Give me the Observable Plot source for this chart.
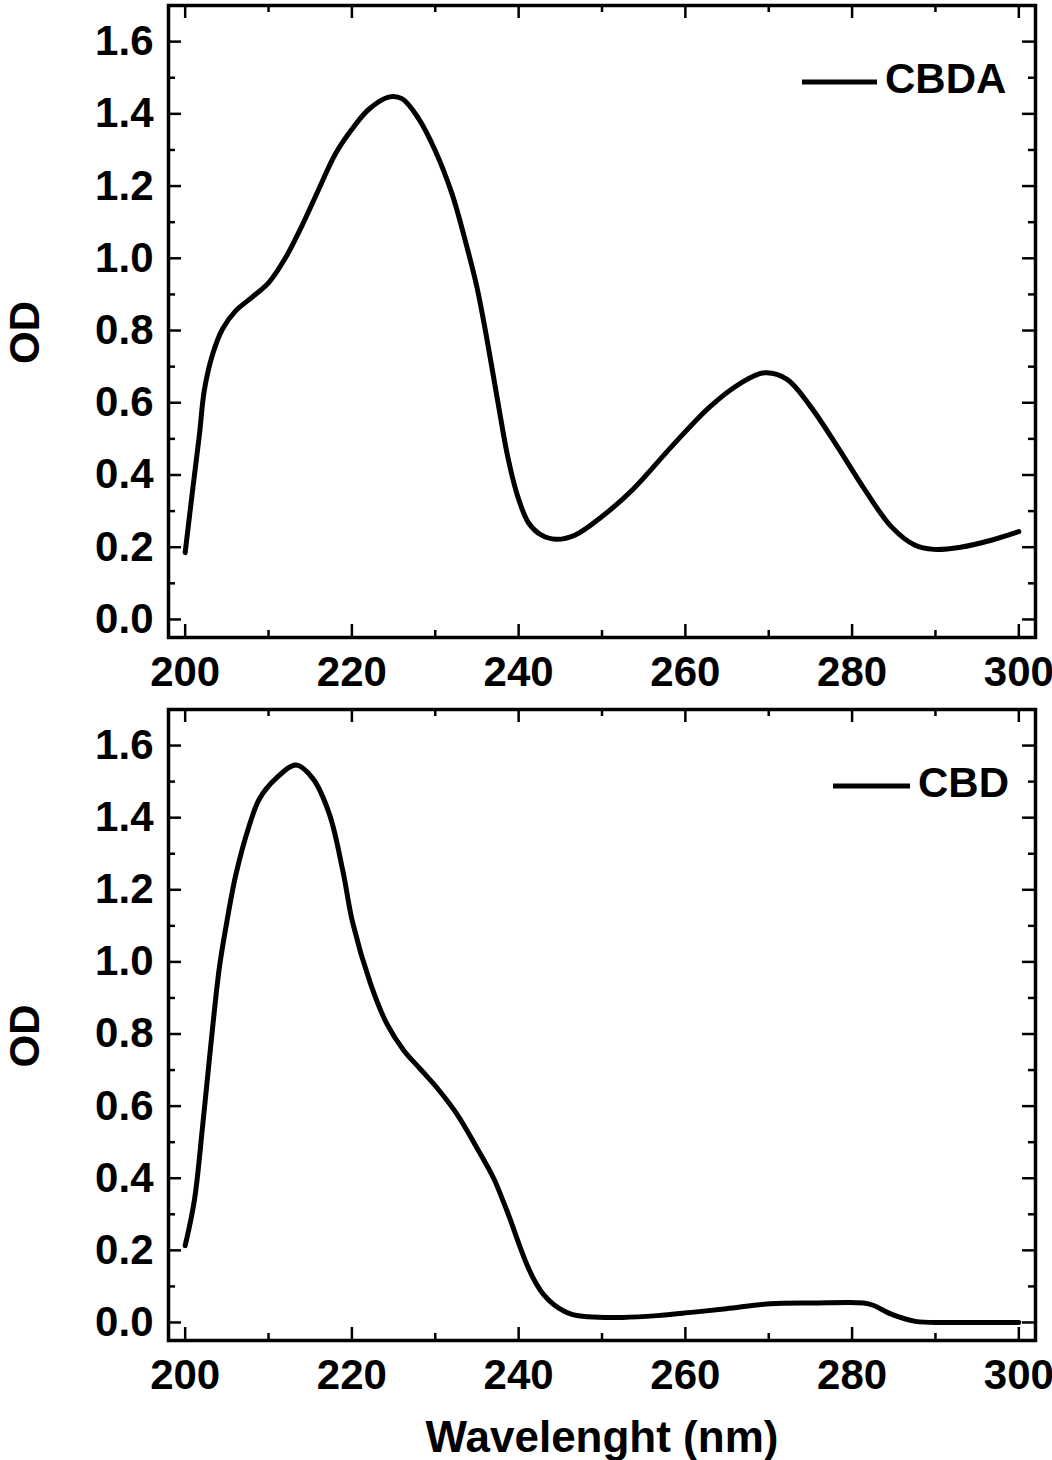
<!DOCTYPE html>
<html><head><meta charset="utf-8">
<script src="https://cdn.jsdelivr.net/npm/d3@7"></script>
<script src="https://cdn.jsdelivr.net/npm/@observablehq/plot@0.6"></script>
<style>
body{margin:0;background:#fff;}
#chart{width:1052px;}
#chart svg{display:block;}
</style>
</head><body><div id="chart"></div>
<script>
// ---- Data ----
const wavelengthCBDA = [200, 200.9, 201.7, 202.3, 203.3, 204.5, 206, 208, 210, 212, 214, 216, 218, 220, 222, 224.5, 226, 228, 230, 232, 233.7, 235, 236.2, 237.6, 238.7, 239.9, 241.2, 242.7, 244.5, 246.8, 250, 253.7, 258.4, 263, 266.7, 269.5, 272.2, 275, 278.2, 281.5, 284.7, 287.5, 289.8, 293, 296.8, 300];
const odCBDA = [0.185, 0.36, 0.51, 0.635, 0.735, 0.805, 0.853, 0.892, 0.932, 1.0, 1.09, 1.19, 1.288, 1.357, 1.412, 1.447, 1.442, 1.387, 1.298, 1.179, 1.04, 0.92, 0.776, 0.59, 0.45, 0.34, 0.267, 0.234, 0.222, 0.234, 0.285, 0.36, 0.48, 0.59, 0.655, 0.683, 0.665, 0.59, 0.48, 0.36, 0.257, 0.206, 0.194, 0.2, 0.22, 0.243];

const wavelengthCBD = [200, 201.1, 202.1, 203.1, 204.1, 204.9, 206.1, 207.7, 208.9, 210.9, 213.3, 215.3, 217.3, 218.9, 220.1, 222.2, 224.2, 226.2, 228.2, 230.2, 232.6, 235, 237, 238, 239, 240, 241, 242, 243, 244.2, 246.3, 248.3, 252.5, 256.6, 260.7, 264.9, 270.2, 275.2, 281.4, 282.6, 284.7, 287.6, 291.7, 300];
const odCBD = [0.213, 0.338, 0.546, 0.775, 0.984, 1.098, 1.244, 1.379, 1.452, 1.509, 1.546, 1.509, 1.41, 1.254, 1.108, 0.942, 0.828, 0.755, 0.703, 0.651, 0.578, 0.484, 0.40, 0.345, 0.285, 0.22, 0.16, 0.112, 0.077, 0.05, 0.023, 0.016, 0.014, 0.019, 0.028, 0.038, 0.052, 0.054, 0.054, 0.047, 0.023, 0.003, 0.0, 0.0];

const xMajorTicks = [200, 220, 240, 260, 280, 300];
const xMinorTicks = [210, 230, 250, 270, 290];
const yMajorTicks = [0, 0.2, 0.4, 0.6, 0.8, 1.0, 1.2, 1.4, 1.6];
const yMinorTicks = [0.1, 0.3, 0.5, 0.7, 0.9, 1.1, 1.3, 1.5];
const xDomain = [198, 302];
const yDomain = [-0.05, 1.7];
const yLabel = "OD";
const xLabel = "Wavelenght (nm)";

const FONT = "'Liberation Sans', Arial, Helvetica, sans-serif";

function legendMark(name, lineFrom, lineTo, textAt) {
  return (index, scales, values, dims) => {
    const g = d3.create("svg:g");
    const right = dims.width - dims.marginRight;
    const top = dims.marginTop;
    g.append("line")
      .attr("x1", right + lineFrom).attr("x2", right + lineTo)
      .attr("y1", top + 77).attr("y2", top + 77)
      .attr("stroke", "#000").attr("stroke-width", 5);
    g.append("text")
      .attr("x", right + textAt).attr("y", top + 88)
      .attr("text-anchor", "start")
      .attr("font-size", 42).attr("font-weight", "bold")
      .attr("font-family", FONT).attr("fill", "#000")
      .text(name);
    return g.node();
  };
}

function panel({wl, od, name, height, marginTop, marginBottom, legend, showXLabel}) {
  const W = 1052, mL = 168, mR = 17;
  const plotH = height - marginTop - marginBottom;
  const plotW = W - mL - mR;
  const MAJ = 13, MIN = 7;
  const data = wl.map((x, i) => ({x, y: od[i]}));
  const tk = {stroke: "#000", strokeWidth: 2.5};
  const marks = [
    Plot.tickX(xMajorTicks, {x: d => d, insetTop: plotH - MAJ, ...tk}),
    Plot.tickX(xMajorTicks, {x: d => d, insetBottom: plotH - MAJ, ...tk}),
    Plot.tickX(xMinorTicks, {x: d => d, insetTop: plotH - MIN, ...tk}),
    Plot.tickX(xMinorTicks, {x: d => d, insetBottom: plotH - MIN, ...tk}),
    Plot.tickY(yMajorTicks, {y: d => d, insetRight: plotW - MAJ, ...tk}),
    Plot.tickY(yMajorTicks, {y: d => d, insetLeft: plotW - MAJ, ...tk}),
    Plot.tickY(yMinorTicks, {y: d => d, insetRight: plotW - MIN, ...tk}),
    Plot.tickY(yMinorTicks, {y: d => d, insetLeft: plotW - MIN, ...tk}),
    Plot.line(data, {x: "x", y: "y", stroke: "#000", strokeWidth: 5, curve: "catmull-rom"}),
    Plot.axisX({ticks: xMajorTicks, tickSize: 0, tickPadding: 19, label: null, tickFormat: d3.format("d")}),
    Plot.axisY({ticks: yMajorTicks, tickSize: 0, tickPadding: 15, label: null, tickFormat: d3.format(".1f")}),
    Plot.frame({stroke: "#000", strokeWidth: 3.5}),
    Plot.text([yLabel], {frameAnchor: "left", textAnchor: "middle", rotate: -90, dx: -143, dy: 11, fontSize: 42, fontWeight: "bold", lineAnchor: "middle"}),
    legendMark(name, ...legend)
  ];
  if (showXLabel) {
    marks.push(Plot.text([xLabel], {frameAnchor: "bottom", textAnchor: "middle", dy: 97, fontSize: 44, fontWeight: "bold", lineAnchor: "middle"}));
  }
  return Plot.plot({
    width: W, height,
    marginLeft: mL, marginRight: mR, marginTop, marginBottom,
    x: {domain: xDomain},
    y: {domain: yDomain},
    style: {fontFamily: FONT, fontSize: "42px", fontWeight: "bold", color: "#000", background: "#fff", overflow: "visible"},
    marks
  });
}

const chart = document.getElementById("chart");
chart.appendChild(panel({wl: wavelengthCBDA, od: odCBDA, name: "CBDA", height: 700, marginTop: 5, marginBottom: 63, legend: [-233, -158, -150], showXLabel: false}));
chart.appendChild(panel({wl: wavelengthCBD, od: odCBD, name: "CBD", height: 760, marginTop: 9, marginBottom: 120, legend: [-202, -125, -117], showXLabel: true}));
</script>
</body></html>
